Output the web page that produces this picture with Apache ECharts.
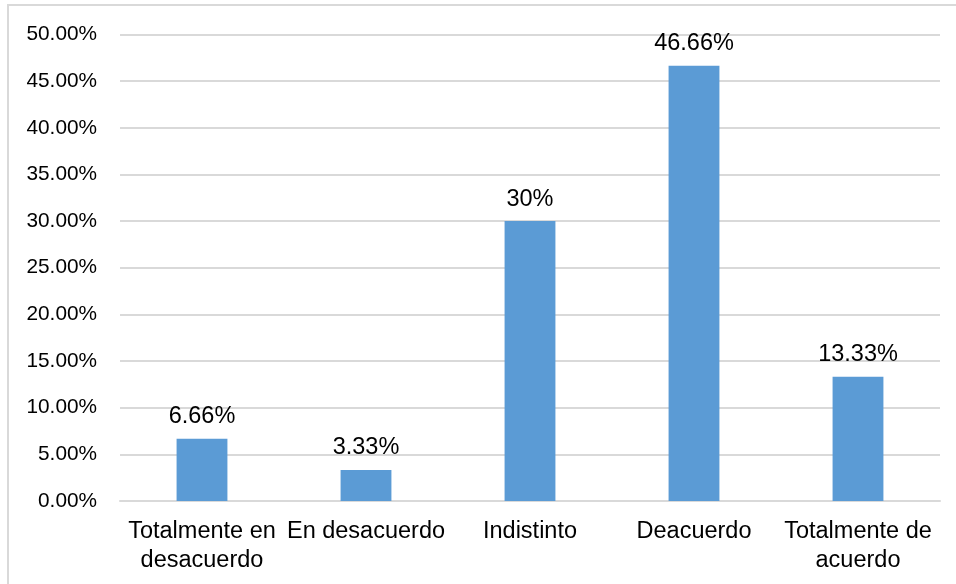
<!DOCTYPE html>
<html>
<head>
<meta charset="utf-8">
<script src="https://cdn.jsdelivr.net/npm/echarts@6/dist/echarts.min.js"></script>
<style>
  html, body { margin: 0; padding: 0; background: #ffffff; }
  #chart { width: 956px; height: 584px; }
</style>
</head>
<body>
<div id="chart"></div>
<script>
// Survey answers and their share of respondents (percent)
const categories = [
  'Totalmente en desacuerdo',
  'En desacuerdo',
  'Indistinto',
  'Deacuerdo',
  'Totalmente de acuerdo'
];
const values = [6.66, 3.33, 30, 46.66, 13.33];
const valueLabels = ['6.66%', '3.33%', '30%', '46.66%', '13.33%'];

// Y axis ticks: 0% to 50% every 5%
const yMin = 0;
const yMax = 50;
const yStep = 5;

const FONT = '"Liberation Sans", Arial, sans-serif';

const chart = echarts.init(document.getElementById('chart'), null, { renderer: 'canvas' });

chart.setOption({
  animation: false,
  backgroundColor: '#ffffff',
  graphic: [{
    type: 'rect',
    silent: true,
    shape: { x: 8, y: 5, width: 1200, height: 1200 },
    style: { fill: 'none', stroke: '#d9d9d9', lineWidth: 2 }
  }],
  grid: { left: 120, right: 16, top: 34.5, bottom: 83, containLabel: false },
  xAxis: {
    type: 'category',
    data: categories,
    axisLine: { show: true, lineStyle: { color: '#d9d9d9', width: 2 } },
    axisTick: { show: false },
    axisLabel: {
      interval: 0,
      margin: 16,
      color: '#000000',
      fontFamily: FONT,
      fontSize: 23.5,
      lineHeight: 29,
      // long answers wrap at their last space
      formatter: function (s) {
        if (s.length > 16) {
          const i = s.lastIndexOf(' ');
          return s.slice(0, i) + '\n' + s.slice(i + 1);
        }
        return s;
      }
    }
  },
  yAxis: {
    type: 'value',
    min: yMin,
    max: yMax,
    interval: yStep,
    axisLine: { show: false },
    axisTick: { show: false },
    splitLine: { lineStyle: { color: '#d9d9d9', width: 2 } },
    axisLabel: {
      margin: 23,
      color: '#000000',
      fontFamily: FONT,
      fontSize: 20.8,
      formatter: function (v) { return v.toFixed(2) + '%'; }
    }
  },
  series: [{
    type: 'bar',
    data: values,
    barWidth: '31%',
    itemStyle: { color: '#5b9bd5' },
    label: {
      show: true,
      position: 'top',
      distance: 10,
      color: '#000000',
      fontFamily: FONT,
      fontSize: 23.5,
      formatter: function (p) { return valueLabels[p.dataIndex]; }
    }
  }]
});
</script>
</body>
</html>
